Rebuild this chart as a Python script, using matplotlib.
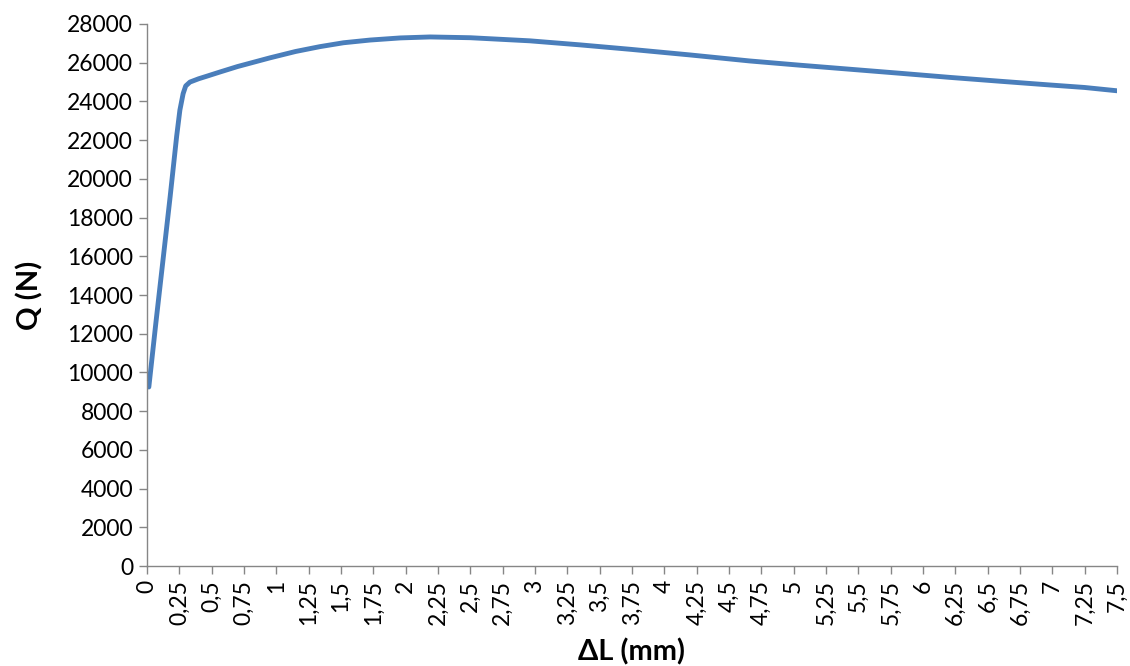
import numpy as np
import matplotlib.pyplot as plt

# deformation (mm) and load (N)
delta_l = [0.015, 0.07, 0.126, 0.18, 0.23, 0.255, 0.28, 0.30, 0.333, 0.40,
           0.462, 0.565, 0.70, 0.951, 1.15, 1.338, 1.52, 1.725, 1.96, 2.19,
           2.5, 2.96, 3.35, 3.74, 4.2, 4.66, 5.05, 5.44, 5.83, 6.21, 6.6, 6.98,
           7.25, 7.5]
load_q = [9250, 12600, 15900, 19100, 22200, 23550, 24400, 24800, 25000, 25170,
          25300, 25520, 25800, 26250, 26580, 26830, 27030, 27170, 27280, 27330,
          27290, 27130, 26920, 26690, 26400, 26090, 25870, 25660, 25450, 25240,
          25040, 24850, 24720, 24550]

x_ticks = [i * 0.25 for i in range(31)]
x_labels = ["0", "0,25", "0,5", "0,75", "1", "1,25", "1,5", "1,75", "2", "2,25",
            "2,5", "2,75", "3", "3,25", "3,5", "3,75", "4", "4,25", "4,5", "4,75",
            "5", "5,25", "5,5", "5,75", "6", "6,25", "6,5", "6,75", "7", "7,25", "7,5"]
y_ticks = list(range(0, 28001, 2000))

plt.rcParams['font.family'] = ['Lato', 'DejaVu Sans']

fig = plt.figure(figsize=(11.3, 6.66), dpi=100)
ax = fig.add_axes([0.130, 0.150, 0.8585, 0.814])

ax.plot(delta_l, load_q, color='#4a7ebb', linewidth=3.5,
        solid_capstyle='round', solid_joinstyle='round')

ax.set_xlim(0, 7.5)
ax.set_ylim(0, 28000)
ax.set_xticks(x_ticks)
ax.set_xticklabels(x_labels, rotation=90)
ax.set_yticks(y_ticks)
ax.set_yticklabels([str(v) for v in y_ticks])

for side in ['top', 'right']:
    ax.spines[side].set_visible(False)
for side in ['left', 'bottom']:
    ax.spines[side].set_color('#868686')
    ax.spines[side].set_linewidth(1.0)

ax.tick_params(axis='both', direction='out', length=6, width=1.0,
               color='#868686', labelsize=16.5, labelcolor='black', pad=4)

ax.set_xlabel('ΔL (mm)', fontsize=21, fontweight='bold', va='center')
ax.xaxis.set_label_coords(0.5, -0.158)
ax.set_ylabel('Q (N)', fontsize=21, fontweight='bold', va='center')
ax.yaxis.set_label_coords(-0.1205, 0.5)

fig.savefig('out.png', dpi=100)
